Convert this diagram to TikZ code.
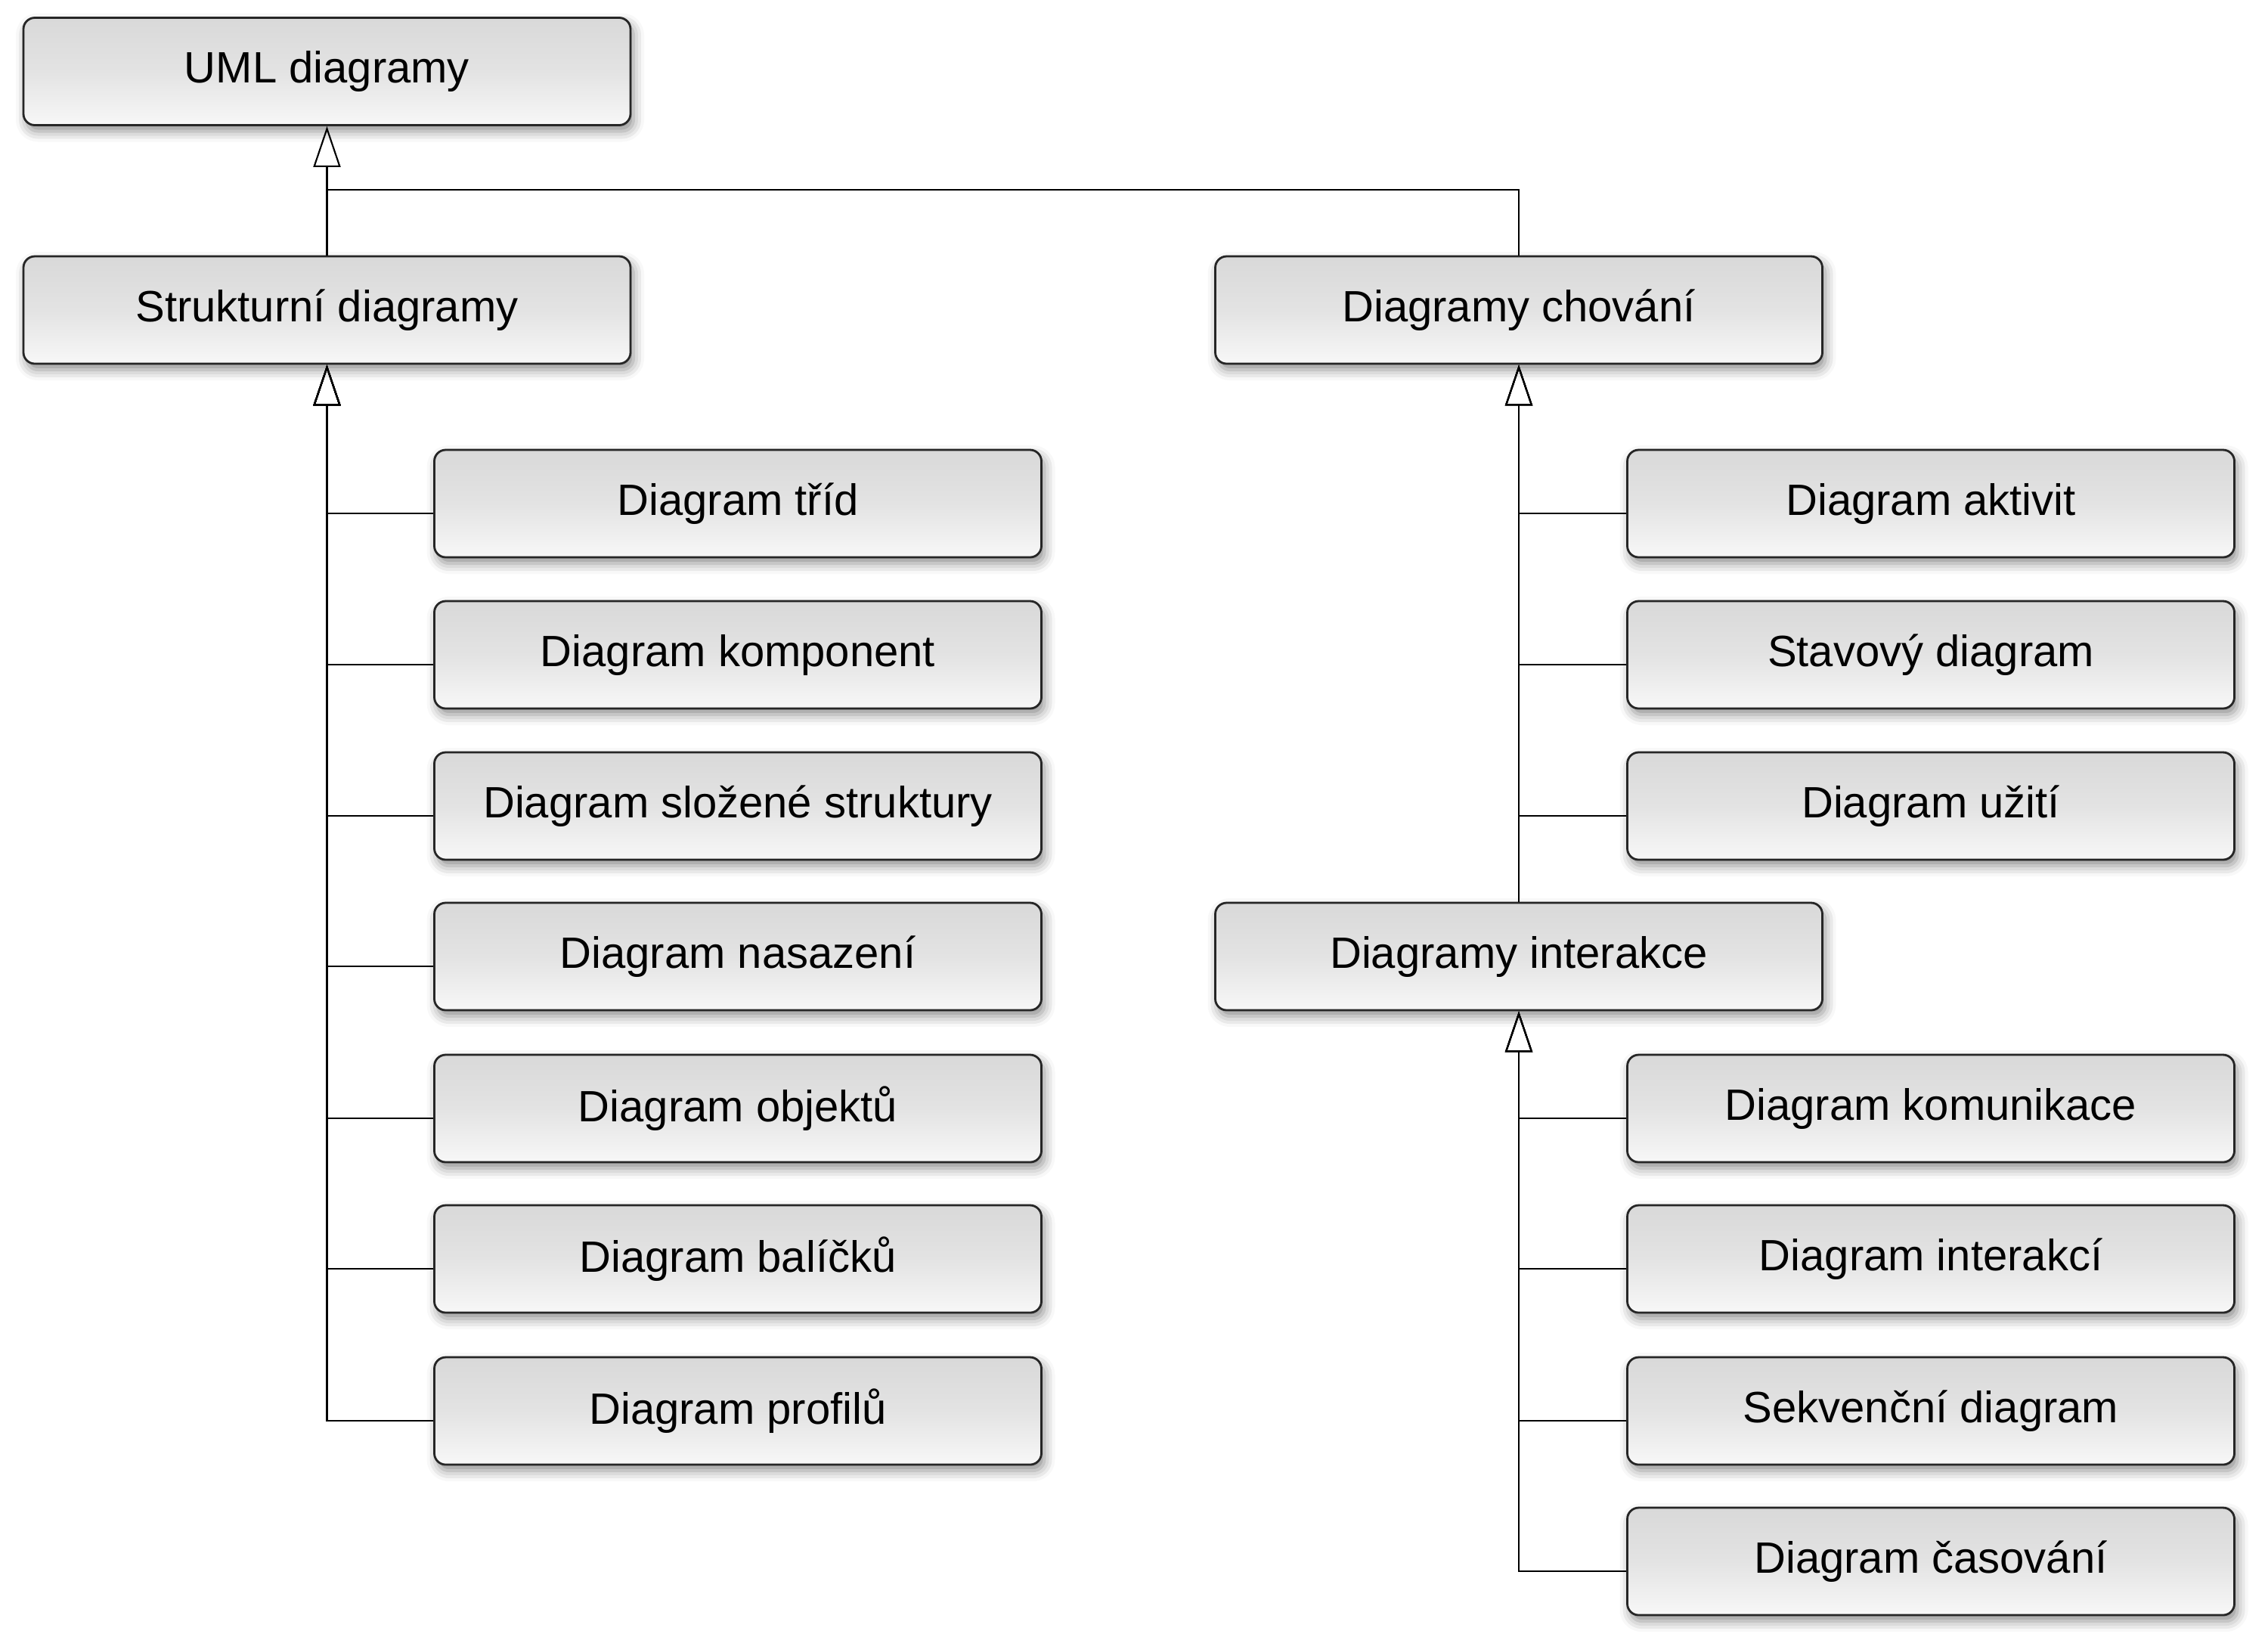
\documentclass[tikz,border=0pt]{standalone}
\usepackage{fontspec}
\setmainfont{Liberation Sans}
\usetikzlibrary{arrows.meta,shadows.blur}

\tikzset{
  diag/.style={draw=black!85, line width=0.8pt, rounded corners=0.15cm,
    minimum width=8.03cm, minimum height=1.42cm, inner sep=0pt,
    top color=black!15, bottom color=black!3, middle color=black!11,
    blur shadow={shadow xshift=0.04cm, shadow yshift=-0.08cm, shadow blur radius=0.14cm, shadow opacity=45},
    font=\fontsize{16.5}{19}\selectfont},
  gen/.style={line width=0.6pt, -{Triangle[open, length=0.54cm, width=0.36cm, line width=0.6pt]}}
}

\begin{document}
\begin{tikzpicture}
      \useasboundingbox (0, 0) rectangle (30, -21.64);

      \node[diag] (uml) at (4.325, -0.945) {UML diagramy};
      \node[diag] (struk) at (4.325, -4.10) {Strukturní diagramy};
      \node[diag] (chov) at (20.09, -4.10) {Diagramy chování};
      \coordinate (spoj) at (4.325, -2.51);

      \node[diag] (trid) at (9.76, -6.66) {Diagram tříd};
      \node[diag] (komp) at (9.76, -8.66) {Diagram komponent};
      \node[diag] (slozena) at (9.76, -10.66) {Diagram složené struktury};
      \node[diag] (nasaz) at (9.76, -12.65) {Diagram nasazení};
      \node[diag] (objekt) at (9.76, -14.66) {Diagram objektů};
      \node[diag] (balic) at (9.76, -16.65) {Diagram balíčků};
      \node[diag] (profil) at (9.76, -18.66) {Diagram profilů};

      \node[diag] (aktiv) at (25.54, -6.66) {Diagram aktivit};
      \node[diag] (stav) at (25.54, -8.66) {Stavový diagram};
      \node[diag] (uziti) at (25.54, -10.66) {Diagram užití};
      \node[diag] (inter) at (20.09, -12.65) {Diagramy interakce};
      \node[diag] (komun) at (25.54, -14.66) {Diagram komunikace};
      \node[diag] (interk) at (25.54, -16.65) {Diagram interakcí};
      \node[diag] (sekv) at (25.54, -18.66) {Sekvenční diagram};
      \node[diag] (cas) at (25.54, -20.65) {Diagram časování};

      \draw[gen] (struk.north) -- (uml.south);
      \draw[line width=0.6pt] (chov.north) |- (spoj);

      \foreach \n in {trid, komp, slozena, nasaz, objekt, balic, profil}
        \draw[gen] ([yshift=-0.13cm]\n.west) -| (struk.south);

      \foreach \n in {aktiv, stav, uziti}
        \draw[gen] ([yshift=-0.13cm]\n.west) -| (chov.south);
      \draw[gen] (inter.north) -- (chov.south);

      \foreach \n in {komun, interk, sekv, cas}
        \draw[gen] ([yshift=-0.13cm]\n.west) -| (inter.south);
    \end{tikzpicture}
\end{document}
